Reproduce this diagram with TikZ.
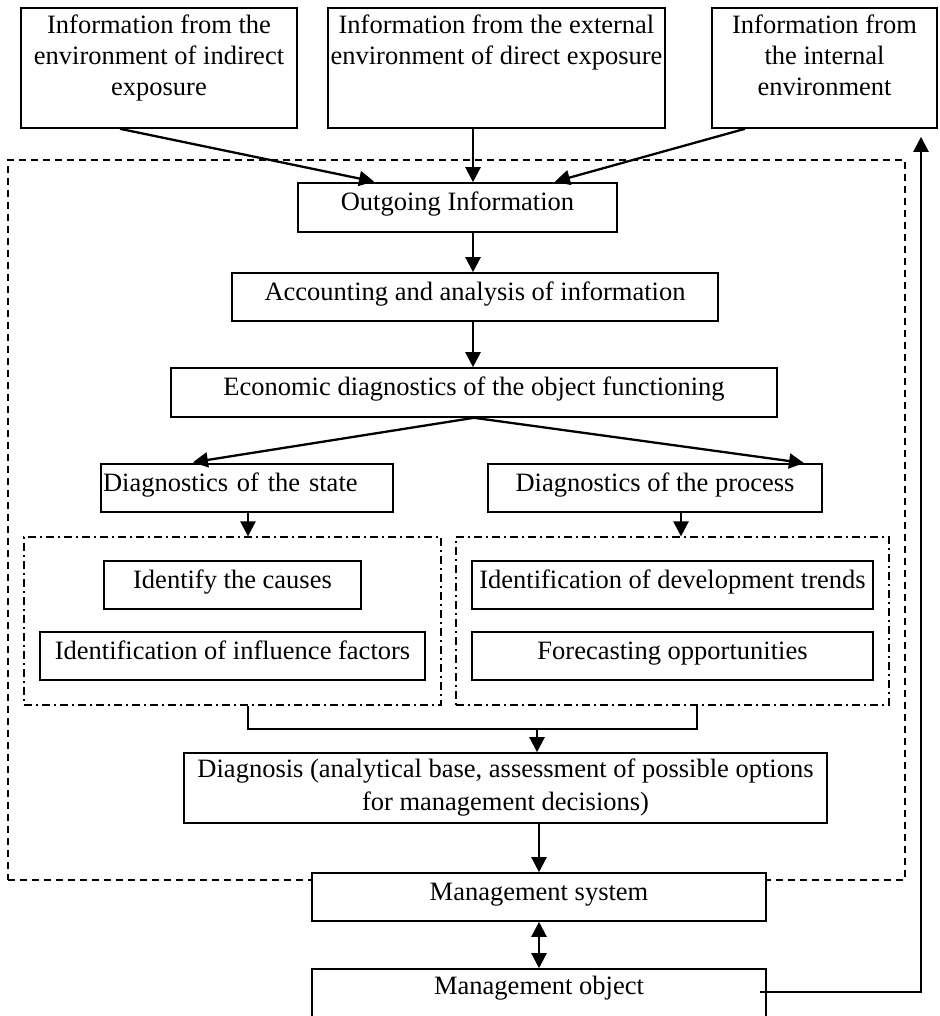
\documentclass[tikz,border=0pt]{standalone}
\usepackage{fontspec}
\setmainfont{Liberation Serif}
\usetikzlibrary{arrows.meta}
\begin{document}
\begin{tikzpicture}[x=1pt,y=-1pt,
  txt/.style={font=\fontsize{26.5}{31}\selectfont},
  box/.style={txt, draw, line width=1.6pt, fill=white, inner sep=0pt,
              text height=18pt, text depth=12pt},
  emptybox/.style={draw, line width=1.6pt, fill=white, inner sep=0pt},
  frame/.style={draw, line width=1.3pt, dash pattern=on 7pt off 5pt, inner sep=0pt},
  group/.style={draw, line width=1.2pt, dash pattern=on 8pt off 4pt on 2pt off 4pt, inner sep=0pt},
  arr/.style={line width=2.3pt, -{Triangle[length=15pt,width=15pt]}},
  arrboth/.style={line width=2.3pt, {Triangle[length=15pt,width=15pt]}-{Triangle[length=15pt,width=15pt]}},
  link/.style={line width=1.8pt}]
\useasboundingbox (0,0) rectangle (939,1016);
\fill[white] (0,0) rectangle (939,1016);

% outer dashed frame of the diagnostic block
\node[frame, minimum width=897pt, minimum height=720pt] (frm) at (456.5,520) {};

% information sources
\node[emptybox, minimum width=276pt, minimum height=120pt] (A) at (159,68) {};
\node[txt, anchor=north, align=center, inner sep=0pt] (Atxt) at (159,15)
  {Information from the\\environment of indirect\\exposure};
\node[emptybox, minimum width=337pt, minimum height=120pt] (B) at (496.5,68) {};
\node[txt, anchor=north, align=center, inner sep=0pt] (Btxt) at (496.5,15)
  {Information from the external\\environment of direct exposure};
\node[emptybox, minimum width=225pt, minimum height=120pt] (C) at (824.5,68) {};
\node[txt, anchor=north, align=center, inner sep=0pt] (Ctxt) at (824.5,15)
  {Information from\\the internal\\environment};

% main chain
\node[box, minimum width=319pt, minimum height=49pt] (Out) at (457.5,207.5) {Outgoing Information};
\node[box, minimum width=486pt, minimum height=48pt] (Acc) at (475,297) {Accounting and analysis of information};
\node[box, minimum width=606pt, minimum height=49pt] (Eco) at (474,392.5) {Economic diagnostics of the object functioning};

\node[box, minimum width=292pt, minimum height=48pt, text width=288pt, align=left, inner xsep=2pt]
  (State) at (247,488) {Diagnostics of the state};
\node[box, minimum width=334pt, minimum height=48pt] (Proc) at (655,488) {Diagnostics of the process};

% dash-dotted groups
\node[group, minimum width=417pt, minimum height=168pt] (LG) at (232.5,621) {};
\node[group, minimum width=433pt, minimum height=168pt] (RG) at (672.5,621) {};

\node[box, minimum width=257pt, minimum height=48pt] (Cause) at (232.5,585) {Identify the causes};
\node[box, minimum width=385pt, minimum height=48pt] (Infl) at (232.5,656) {Identification of influence factors};
\node[box, minimum width=401pt, minimum height=48pt] (Trend) at (672.5,585) {Identification of development trends};
\node[box, minimum width=401pt, minimum height=48pt] (Fore) at (672.5,656) {Forecasting opportunities};

\node[txt, draw, line width=1.6pt, fill=white, inner sep=0pt, align=center,
      font=\fontsize{26.5}{33}\selectfont, minimum width=643pt, minimum height=70pt]
  (Diag) at (505.5,788) {Diagnosis (analytical base, assessment of possible options\\for management decisions)};

\node[box, minimum width=454pt, minimum height=48pt] (Ms) at (539,897) {Management system};
\node[box, minimum width=454pt, minimum height=56pt, text depth=24pt] (Mo) at (539,997) {Management object};

% helper points
\coordinate (spine) at (473,0);
\coordinate (pdown) at (681,0);
\coordinate (jl) at (248,729);
\coordinate (jr) at (697,729);
\coordinate (merge) at (537,729);
\coordinate (fbstart) at (760,992);
\coordinate (fbcorner) at (921,992);

% connectors
\draw[arr, shorten >=3pt] ([xshift=-39pt]A.south) -- ([xshift=-80.5pt]Out.north);
\draw[arr] (B.south -| spine) -- (Out.north -| spine);
\draw[arr, shorten >=2pt] ([xshift=-79.5pt]C.south) -- ([xshift=95.5pt]Out.north);
\draw[arr] (Out.south -| spine) -- (Acc.north -| spine);
\draw[arr] (Acc.south -| spine) -- (Eco.north -| spine);
\draw[arr, shorten >=6pt] (Eco.south) -- ([xshift=-60pt]State.north);
\draw[arr, shorten >=1pt] (Eco.south) -- ([xshift=150pt]Proc.north);
\draw[arr] (State.south -| jl) -- (LG.north -| jl);
\draw[arr] (Proc.south -| pdown) -- (RG.north -| pdown);
\draw[link] (LG.south -| jl) -- (jl) -- (jr) -- (RG.south -| jr);
\draw[arr] (merge) -- (merge |- Diag.north);
\draw[arr] (Diag.south -| Ms.north) -- (Ms.north);
\draw[arrboth] (Ms.south) -- (Mo.north);
\draw[arr, shorten >=8pt] (fbstart) -- (fbcorner) -- (fbcorner |- C.south);
\end{tikzpicture}
\end{document}
